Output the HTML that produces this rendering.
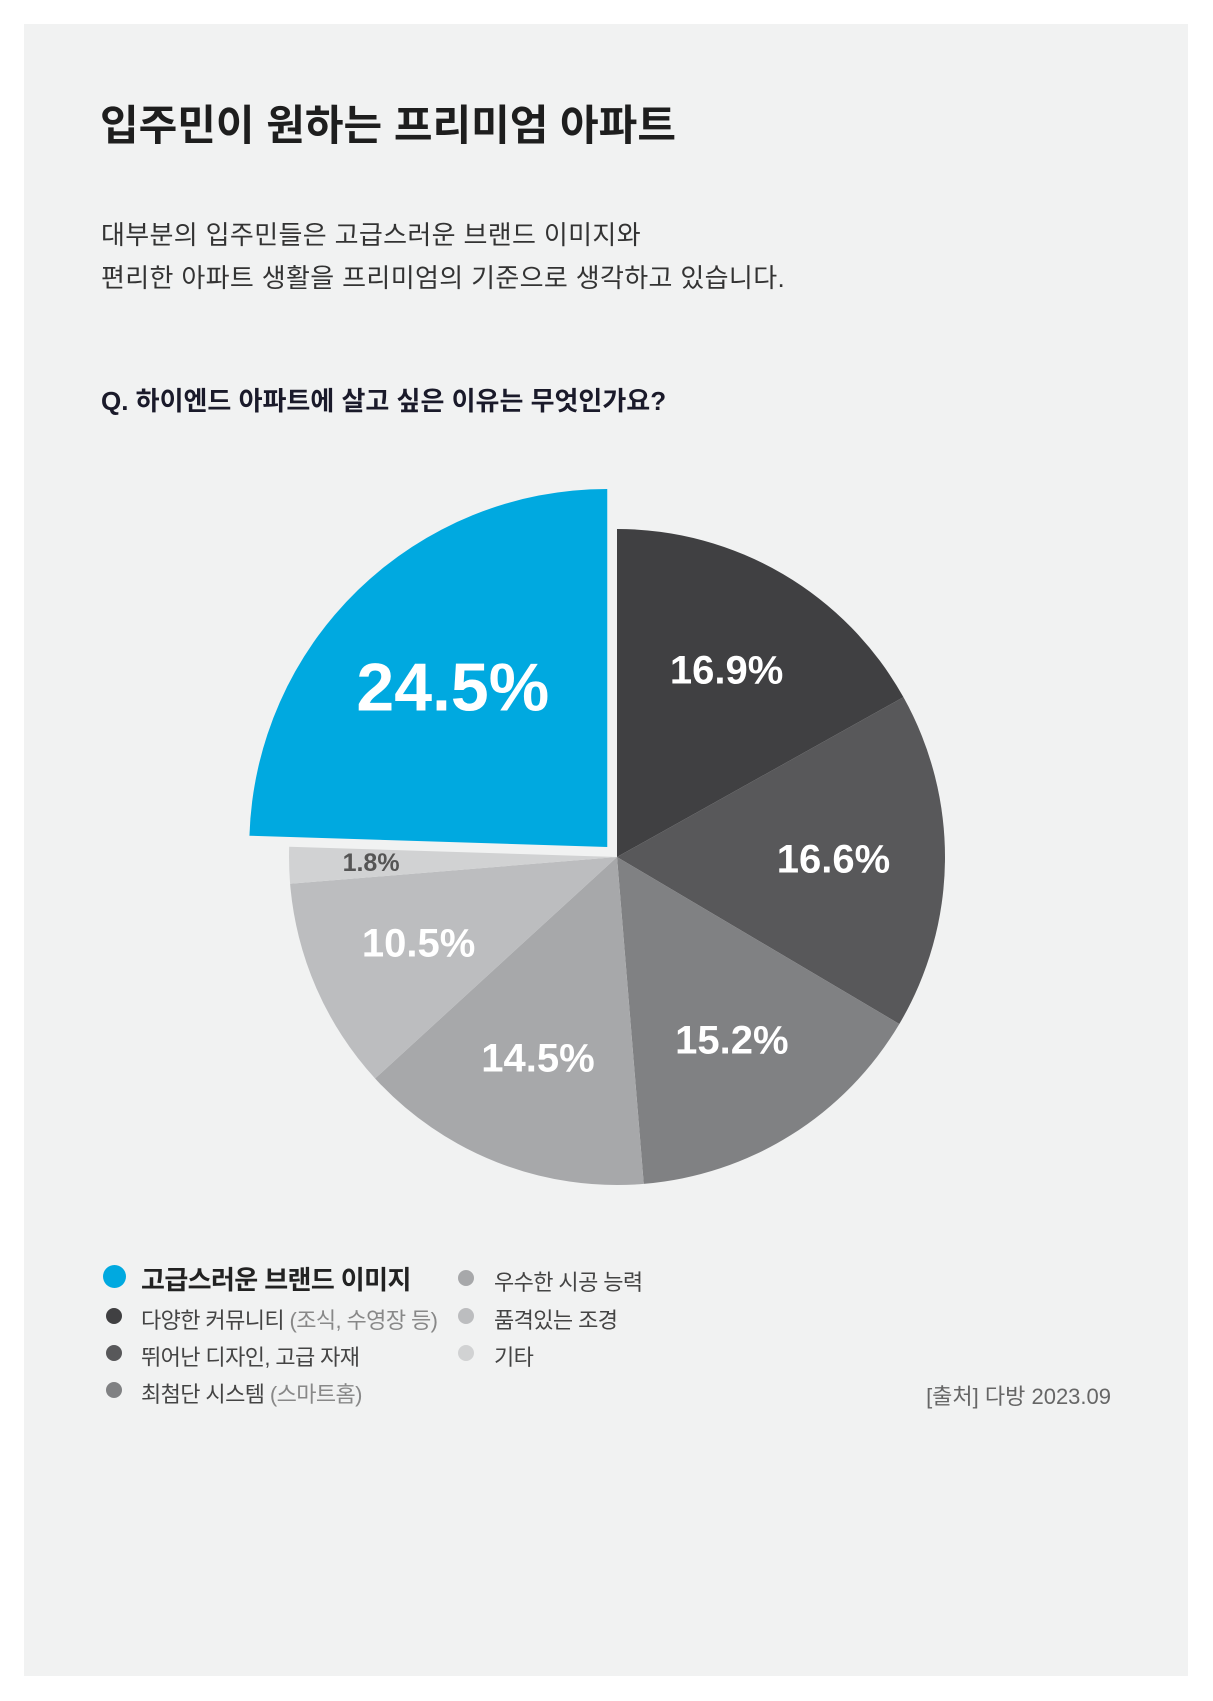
<!DOCTYPE html>
<html><head><meta charset="utf-8">
<style>
html,body{margin:0;padding:0;background:#fff;}
body{width:1213px;height:1701px;position:relative;overflow:hidden;font-family:"Liberation Sans","Noto Sans CJK KR",sans-serif;}
#card{position:absolute;left:24px;top:24px;width:1164px;height:1652px;background:#f1f2f2;}
.t{position:absolute;white-space:nowrap;}
.lg{font-size:22px;color:#444;letter-spacing:-0.6px;}
</style></head><body>
<div id="card"></div>
<div class="t" style="left:100px;top:92px;font-size:42px;font-weight:bold;color:#1e1e1e;letter-spacing:0px;">입주민이 원하는 프리미엄 아파트</div>
<div class="t" style="left:101px;top:214px;font-size:26px;color:#333;line-height:43px;letter-spacing:0.35px;">대부분의 입주민들은 고급스러운 브랜드 이미지와<br>편리한 아파트 생활을 프리미엄의 기준으로 생각하고 있습니다.</div>
<div class="t" style="left:101px;top:381px;font-size:26px;font-weight:bold;color:#1a1a2a;letter-spacing:0px;">Q. 하이엔드 아파트에 살고 싶은 이유는 무엇인가요?</div>
<svg id="pie" width="1213" height="1701" style="position:absolute;left:0;top:0;" xmlns="http://www.w3.org/2000/svg"></svg>

<div>
<div><span class="t" style="left:103px;top:1265px;width:23px;height:23px;border-radius:50%;background:#00a9e0;"></span><span class="t" style="left:141px;top:1260px;font-size:26px;font-weight:bold;color:#222;letter-spacing:-0.6px;">고급스러운 브랜드 이미지</span></div>
<div><span class="t" style="left:106px;top:1308px;width:16px;height:16px;border-radius:50%;background:#404042;"></span><span class="t lg" style="left:141px;top:1303px;">다양한 커뮤니티 <span style="color:#888">(조식, 수영장 등)</span></span></div>
<div><span class="t" style="left:106px;top:1345px;width:16px;height:16px;border-radius:50%;background:#58585a;"></span><span class="t lg" style="left:141px;top:1340px;">뛰어난 디자인, 고급 자재</span></div>
<div><span class="t" style="left:106px;top:1382px;width:16px;height:16px;border-radius:50%;background:#808183;"></span><span class="t lg" style="left:141px;top:1377px;">최첨단 시스템 <span style="color:#888">(스마트홈)</span></span></div>
<div><span class="t" style="left:458px;top:1270px;width:16px;height:16px;border-radius:50%;background:#a7a8aa;"></span><span class="t lg" style="left:494px;top:1265px;">우수한 시공 능력</span></div>
<div><span class="t" style="left:458px;top:1308px;width:16px;height:16px;border-radius:50%;background:#bcbdbf;"></span><span class="t lg" style="left:494px;top:1303px;">품격있는 조경</span></div>
<div><span class="t" style="left:458px;top:1345px;width:16px;height:16px;border-radius:50%;background:#d1d2d3;"></span><span class="t lg" style="left:494px;top:1340px;">기타</span></div>
</div>
<div class="t" style="right:102px;top:1379px;font-size:22px;color:#666;">[출처] 다방 2023.09</div>

<script>
const categories = ["다양한 커뮤니티","뛰어난 디자인, 고급 자재","최첨단 시스템","우수한 시공 능력","품격있는 조경","기타","고급스러운 브랜드 이미지"];
const values = [16.9,16.6,15.2,14.5,10.5,1.8,24.5];
const valueLabels = ["16.9%","16.6%","15.2%","14.5%","10.5%","1.8%","24.5%"];
const colors = ["#404042","#58585a","#808183","#a7a8aa","#bcbdbf","#d1d2d3","#00a9e0"];
const svg = document.getElementById('pie');
const NS = "http://www.w3.org/2000/svg";
const cx = 617, cy = 857, R = 328, RH = 358;
const total = values.reduce((a,b)=>a+b,0);
function angleOf(v){ return v/total*Math.PI*2; }
function pt(ox,oy,r,a){ return [ox+r*Math.sin(a), oy-r*Math.cos(a)]; }
let start = 0;
values.forEach((v,i)=>{
  const a0 = start, a1 = start + angleOf(v); start = a1;
  const mid = (a0+a1)/2;
  const highlight = i === values.length-1;
  const off = highlight ? 14 : 0;
  const r = highlight ? RH : R;
  const ox = cx + off*Math.sin(mid), oy = cy - off*Math.cos(mid);
  const p0 = pt(ox,oy,r,a0), p1 = pt(ox,oy,r,a1);
  const large = (a1-a0) > Math.PI ? 1 : 0;
  const path = document.createElementNS(NS,'path');
  path.setAttribute('d', `M${ox},${oy} L${p0[0]},${p0[1]} A${r},${r} 0 ${large} 1 ${p1[0]},${p1[1]} Z`);
  path.setAttribute('fill', colors[i]);
  
  
  svg.appendChild(path);
  const small = v < 5;
  const lr = highlight ? 0.62*r : (small ? 0.75*r : 0.66*r);
  const lp = pt(ox,oy,lr,mid);
  const t = document.createElementNS(NS,'text');
  t.setAttribute('x', lp[0]); t.setAttribute('y', lp[1]);
  t.setAttribute('text-anchor','middle'); t.setAttribute('dominant-baseline','central');
  t.setAttribute('font-family','"Liberation Sans", sans-serif');
  t.setAttribute('font-weight','bold');
  t.setAttribute('font-size', highlight ? 68 : (small ? 25 : 40));
  t.setAttribute('fill', small ? '#555' : '#fff');
  t.textContent = valueLabels[i];
  
  
  svg.appendChild(t);
});
</script>
</body></html>
